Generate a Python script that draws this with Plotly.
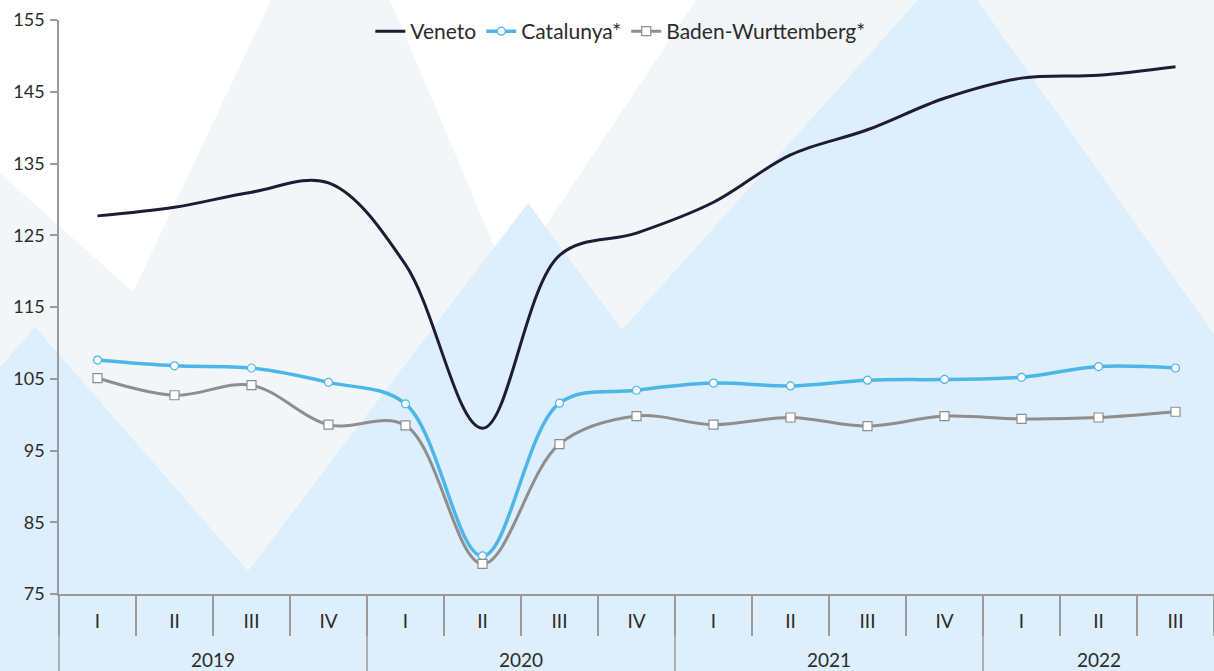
import plotly.graph_objects as go

years = ["2019"] * 4 + ["2020"] * 4 + ["2021"] * 4 + ["2022"] * 3
quarters = ["I", "II", "III", "IV"] * 3 + ["I", "II", "III"]
periods = [f"{y} {q}" for y, q in zip(years, quarters)]

veneto = [127.7, 128.9, 131.0, 132.3, 120.9, 98.1, 122.2, 125.3,
          129.6, 136.2, 139.7, 144.1, 146.9, 147.3, 148.5]
catalunya = [107.6, 106.8, 106.5, 104.5, 101.5, 80.3, 101.6, 103.4,
             104.4, 104.0, 104.8, 104.9, 105.2, 106.7, 106.5]
baden = [105.1, 102.7, 104.1, 98.6, 98.5, 79.2, 95.9, 99.8,
         98.6, 99.6, 98.4, 99.8, 99.4, 99.6, 100.4]

W, H = 1214, 671
L, R, T, B = 59, 0, 20, 77

GRAY_BG = "#f2f6f8"
WHITE = "#ffffff"
BLUE_BG = "#ddeefc"
AXIS = "#9a9a9a"
TEXT = "#2b2b2b"


def px_path(points):
    # decorative background polygon given in page pixels -> paper coordinates
    pw, ph = W - L - R, H - T - B
    parts = []
    for i, (px, py) in enumerate(points):
        xp = (px - L) / pw
        yp = (H - B - py) / ph
        parts.append(("M" if i == 0 else "L") + f"{xp:.4f},{yp:.4f}")
    return " ".join(parts) + " Z"


white_left = [(0, 0), (271, 0), (133, 292), (0, 173)]
white_mid = [(390, 0), (509, 281), (696, 0)]
blue_range = [(0, 367), (35, 327), (248, 571), (528, 203), (622, 330),
              (918, 0), (977, 0), (1214, 334), (1214, 671), (0, 671)]

fig = go.Figure()

fig.add_trace(go.Scatter(
    x=periods, y=veneto, name="Veneto", mode="lines",
    line=dict(color="#1e1b32", width=3, shape="spline", smoothing=1),
))
fig.add_trace(go.Scatter(
    x=periods, y=catalunya, name="Catalunya*", mode="lines+markers",
    line=dict(color="#4db6e9", width=3.5, shape="spline", smoothing=1),
    marker=dict(symbol="circle", size=8, color="white",
                line=dict(color="#4db6e9", width=1.2)),
))
fig.add_trace(go.Scatter(
    x=periods, y=baden, name="Baden-Wurttemberg*", mode="lines+markers",
    line=dict(color="#8e8e8e", width=3, shape="spline", smoothing=1),
    marker=dict(symbol="square", size=9, color="white",
                line=dict(color="#8e8e8e", width=1.2)),
))

shapes = []
for poly, col in [(white_left, WHITE), (white_mid, WHITE), (blue_range, BLUE_BG)]:
    shapes.append(dict(type="path", xref="paper", yref="paper", path=px_path(poly),
                       fillcolor=col, line=dict(width=0), layer="below"))

# year groups: dividers at group starts and labels at group centres
n = len(periods)
annotations = []
year_order = list(dict.fromkeys(years))
for yr in year_order:
    idx = [i for i, y in enumerate(years) if y == yr]
    start = idx[0] / n
    centre = (idx[0] + idx[-1] + 1) / 2 / n
    shapes.append(dict(type="line", xref="paper", yref="paper",
                       x0=start, x1=start, y0=0, y1=-0.16,
                       line=dict(color=AXIS, width=1.5)))
    annotations.append(dict(text=yr, xref="paper", yref="paper", x=centre, y=0,
                            yshift=-65, xanchor="center", yanchor="middle",
                            showarrow=False, font=dict(size=19, color=TEXT)))

fig.update_layout(
    width=W, height=H,
    margin=dict(l=L, r=R, t=T, b=B),
    paper_bgcolor=GRAY_BG,
    plot_bgcolor="rgba(0,0,0,0)",
    shapes=shapes,
    annotations=annotations,
    font=dict(family="Lato", size=18, color=TEXT),
    showlegend=True,
    legend=dict(orientation="h", x=0.486, xanchor="center", y=0.98, yanchor="middle",
                bgcolor="rgba(0,0,0,0)", font=dict(size=21, color=TEXT),
                itemwidth=30, tracegroupgap=0),
)

fig.update_xaxes(
    type="category", range=[-0.5, n - 0.5],
    tickmode="array", tickvals=periods, ticktext=quarters,
    showline=True, linecolor=AXIS, linewidth=2,
    ticks="outside", tickson="boundaries", ticklen=40, tickcolor=AXIS, tickwidth=1.5,
    ticklabelstandoff=9,
    showgrid=False, zeroline=False, automargin=False,
    tickfont=dict(size=19, color=TEXT),
)
fig.update_yaxes(
    range=[75, 155], tickvals=list(range(75, 156, 10)),
    showline=True, linecolor=AXIS, linewidth=1.5,
    ticks="outside", ticklen=7, tickcolor=AXIS, tickwidth=1.5,
    ticklabelstandoff=2,
    showgrid=False, zeroline=False, automargin=False,
    tickfont=dict(size=18, color=TEXT),
)

fig.write_html("out.html", config={"displayModeBar": False},
               post_script="document.body.style.margin='0';")
